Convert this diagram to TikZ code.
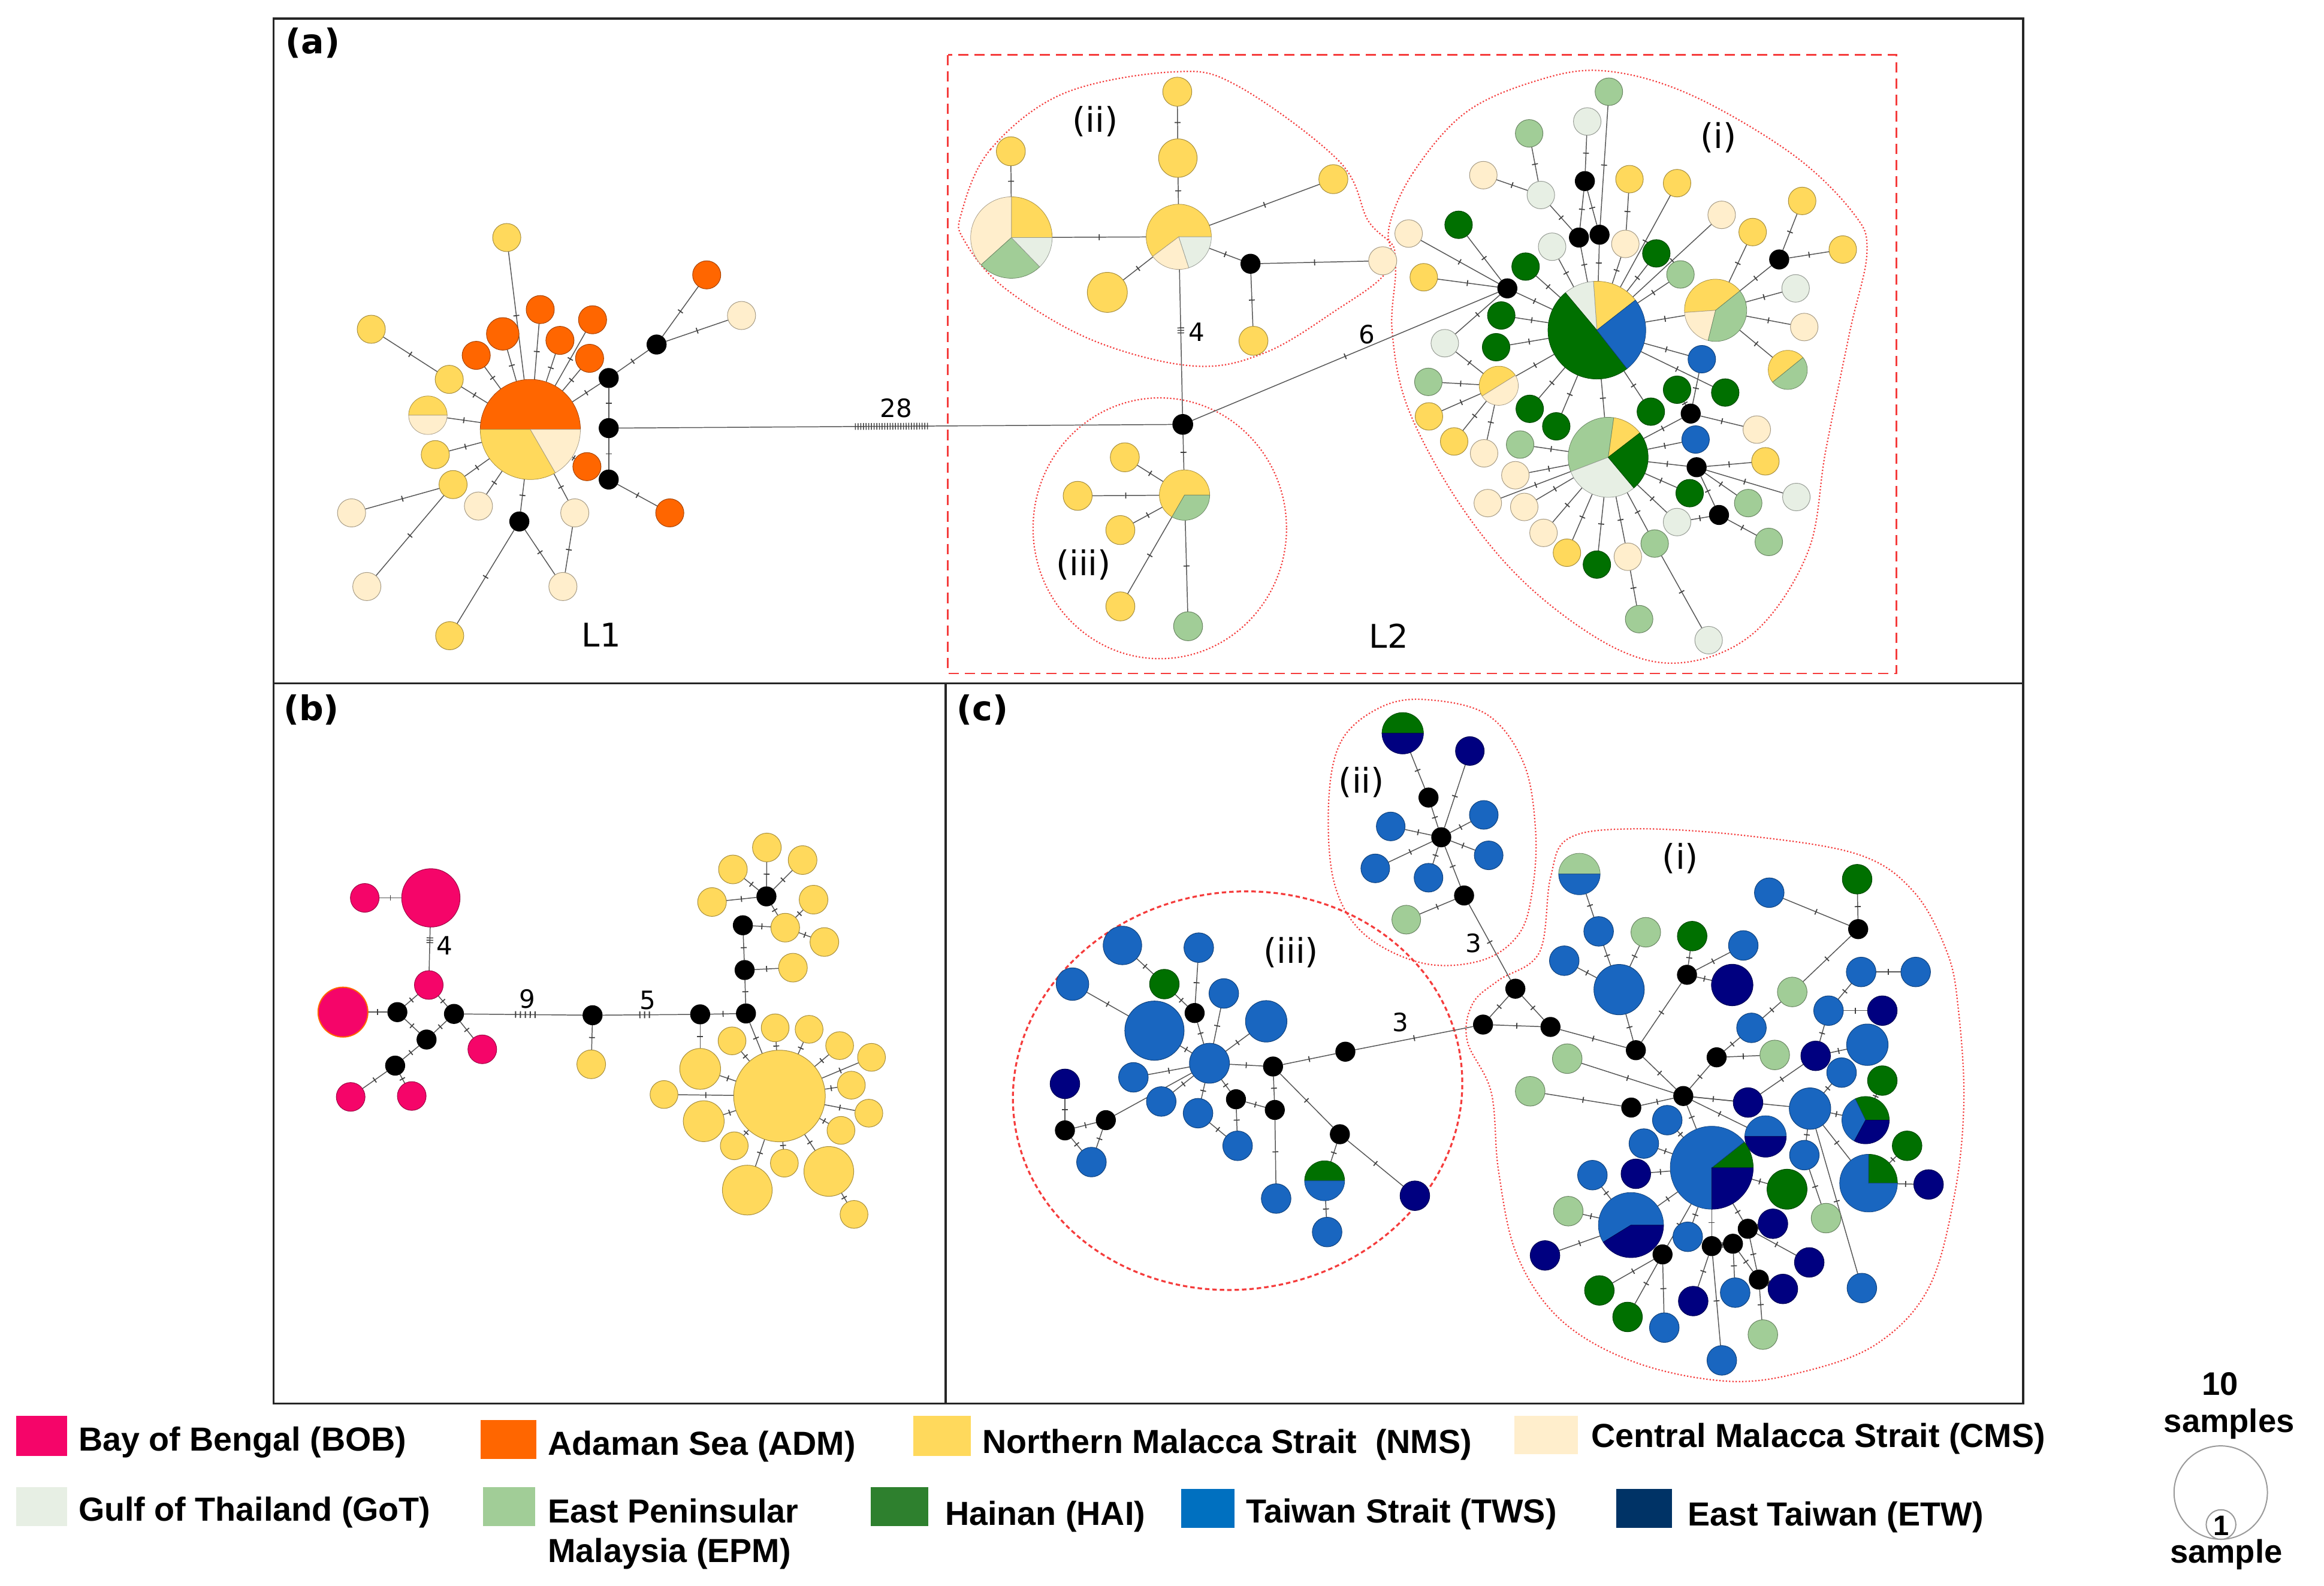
\documentclass[tikz,border=0pt]{standalone}
\usepackage{fontspec}
\setmainfont{DejaVu Sans}
\newfontfamily\legf{Liberation Sans}
\usetikzlibrary{calc}
\pgfdeclarelayer{bg}
\pgfsetlayers{bg,main}
\definecolor{BOB}{RGB}{245,5,105}
\definecolor{ADM}{RGB}{255,102,0}
\definecolor{NMS}{RGB}{255,217,92}
\definecolor{CMS}{RGB}{255,238,204}
\definecolor{GoT}{RGB}{231,239,228}
\definecolor{EPM}{RGB}{161,205,151}
\definecolor{HAI}{RGB}{0,112,0}
\definecolor{TWS}{RGB}{25,102,192}
\definecolor{ETW}{RGB}{0,0,128}
\definecolor{LHAI}{RGB}{46,128,46}
\definecolor{LTWS}{RGB}{0,112,192}
\definecolor{LETW}{RGB}{0,51,102}
\definecolor{REDL}{RGB}{245,60,60}
\tikzset{
  hap/.style={circle, inner sep=0pt, outer sep=0pt, line width=0.4pt},
  medv/.style={circle, fill=black, inner sep=0pt, outer sep=0pt, minimum size=13.5pt},
  pien/.style={circle, inner sep=0pt, outer sep=0pt},
  edg/.style={draw=black!66, line width=0.6pt},
  tk/.style={sloped, allow upside down, rectangle, fill=black!75, inner sep=0pt, minimum width=0.7pt, minimum height=4pt},
  hatch/.style={draw=black!75, line width=4.5pt},
  frame/.style={draw=black!85, line width=1.3pt},
  redbox/.style={draw=REDL, line width=1pt, dash pattern=on 7pt off 4pt},
  dots/.style={draw=REDL, line width=0.9pt, dash pattern=on 0.9pt off 1.3pt},
  dsh/.style={draw=REDL, line width=1.3pt, dash pattern=on 3pt off 2pt},
  num/.style={inner sep=0pt, font=\fontsize{17}{20}\selectfont},
  plab/.style={inner sep=0pt, font=\bfseries\fontsize{23}{26}\selectfont},
  clab/.style={inner sep=0pt, font=\fontsize{23}{26}\selectfont},
  Llab/.style={inner sep=0pt, font=\fontsize{22}{26}\selectfont},
  legt/.style={anchor=base west, inner sep=0pt, font=\legf\bfseries\fontsize{22.5}{26}\selectfont},
  sct/.style={inner sep=0pt, font=\legf\bfseries\fontsize{22}{24}\selectfont},
}
\newcommand\HN[4]{\node[hap, fill=#4, draw=#4!65!black, minimum size=#3*2pt] (#1) at (#2) {};}
\newcommand\BN[2]{\node[medv] (#1) at (#2) {};}
\newcommand\PN[4]{\node[pien, minimum size=#3*2pt] (#1) at (#2) {};
  \foreach \pa/\pb/\pc in {#4}{\filldraw[fill=\pc, draw=\pc!65!black, line width=0.3pt] (#1.center) -- ++({-(\pa)}:#3) arc[start angle={-(\pa)}, end angle={-(\pb)}, radius=#3] -- cycle;}}
\begin{document}
\begin{tikzpicture}[x=1pt,y=-1pt]
\useasboundingbox (0,0) rectangle (1568,1070);
\begin{pgfonlayer}{bg}
\fill[white] (0,0) rectangle (1568,1070);
\draw[frame] (184.5,12.5) rectangle (1365,461);
\draw[frame] (184.5,461) rectangle (638,947);
\draw[frame] (638,461) rectangle (1365,947);
\draw[redbox] (639.5,37) rectangle (1279.5,454.5);
\draw[dots] plot[smooth cycle, tension=0.6] coordinates {(648.7,143.7) (668.3,100.8) (717.3,63.2) (791.8,48.5) (834.9,57.9) (903.5,108.8) (923.1,149.0) (940.7,167.8) (932.9,186.6) (903.5,208.0) (854.5,237.6) (805.5,247.0) (736.9,229.5) (678.1,194.6) (650.7,162.5)};
\draw[dots] plot[smooth cycle, tension=0.6] coordinates {(937.0,154.4) (953.2,116.9) (988.0,76.6) (1034.4,55.2) (1080.9,47.7) (1138.9,63.2) (1208.5,103.5) (1250.3,143.7) (1259.6,170.5) (1248.0,224.1) (1231.7,304.6) (1220.1,371.6) (1185.3,425.3) (1138.9,446.7) (1092.5,438.7) (1034.4,398.5) (988.0,344.8) (950.9,277.8) (939.3,224.1) (941.6,181.2)};
\draw[dots] (782.5,356.5) ellipse[x radius=85.5, y radius=88];
\draw[dots] plot[smooth cycle, tension=0.6] coordinates {(896.5,540) (905,500) (930,478) (960,472) (1003,482) (1028,515) (1036,560) (1034,600) (1025,630) (1000,648) (960,650) (920,630) (900,595)};
\draw[dots] plot[smooth cycle, tension=0.6] coordinates {(1038.6,642.7) (1046.1,592.3) (1058.6,565.6) (1103.7,559.3) (1178.7,564.0) (1253.7,576.6) (1291.2,601.8) (1313.7,642.7) (1321.2,680.4) (1325.0,743.3) (1318.7,806.3) (1301.2,869.2) (1266.2,906.9) (1216.2,925.8) (1166.2,932.1) (1103.7,919.5) (1053.6,891.2) (1023.6,847.2) (1011.1,790.5) (1006.1,737.0) (989.9,702.4) (993.6,677.3) (1011.1,661.5)};
\draw[dsh, rotate around={9:(835,736)}] (835,736) ellipse[x radius=152, y radius=134];
\end{pgfonlayer}
% ---------- panel (a) L1
\PN{a0}{357.8,289.8}{33.8}{0/180/ADM,180/300/NMS,300/360/CMS}
\HN{a1}{341.9,160.3}{9.5}{NMS}
\HN{a2}{339.2,225.3}{11}{ADM}
\HN{a3}{364.5,208.9}{9.5}{ADM}
\HN{a4}{399.8,215.8}{9.5}{ADM}
\HN{a5}{377.8,229.7}{9.5}{ADM}
\HN{a6}{321.3,239.8}{9.5}{ADM}
\HN{a7}{397.8,241.8}{9.5}{ADM}
\HN{a8}{250.5,222.2}{9.5}{NMS}
\HN{a9}{303.1,256.0}{9.5}{NMS}
\PN{a10}{288.7,280.2}{13}{0/180/NMS,180/360/CMS}
\HN{a11}{293.7,306.8}{9.5}{NMS}
\HN{a12}{305.7,327.0}{9.5}{NMS}
\HN{a13}{237.2,346.1}{9.5}{CMS}
\HN{a14}{322.8,341.5}{9.5}{CMS}
\BN{a15}{350.4,351.9}
\HN{a16}{387.8,346.1}{9.5}{CMS}
\HN{a17}{396.0,314.9}{9.5}{ADM}
\HN{a18}{247.5,395.8}{9.5}{CMS}
\HN{a19}{379.8,395.8}{9.5}{CMS}
\HN{a20}{303.4,429.0}{9.5}{NMS}
\BN{ab1}{410.7,255.1}
\BN{ab2}{410.7,288.9}
\BN{ab3}{410.7,323.6}
\HN{a21}{451.9,346.1}{9.5}{ADM}
\BN{ab4}{443.0,232.5}
\HN{a22}{476.8,185.5}{9.5}{ADM}
\HN{a23}{500.3,212.9}{9.5}{CMS}
% ---------- (a) ii / iii
\PN{P2a}{682.4,160.3}{27.5}{0/90/NMS,90/222/CMS,222/314/EPM,314/360/GoT}
\PN{P2b}{795.3,159.8}{22}{0/217/NMS,217/288/CMS,288/360/GoT}
\HN{i1}{682.0,102.1}{9.8}{NMS}
\HN{i2}{794.7,106.7}{13}{NMS}
\HN{i3}{794.3,61.9}{9.8}{NMS}
\HN{i4}{899.6,120.9}{9.8}{NMS}
\HN{i5}{747.1,197.3}{13.5}{NMS}
\BN{ib1}{843.7,178.0}
\HN{i6}{932.9,176.0}{9.5}{CMS}
\HN{i7}{845.7,230.0}{9.8}{NMS}
\node[medv, minimum size=14pt] (J) at (798.0,286.4) {};
\PN{P3}{799.2,334.1}{17}{0/240/NMS,240/360/EPM}
\HN{t1}{758.9,308.6}{9.8}{NMS}
\HN{t2}{727.1,334.6}{9.8}{NMS}
\HN{t3}{755.9,357.7}{9.8}{NMS}
\HN{t4}{755.9,409.2}{9.8}{NMS}
\HN{t5}{801.6,422.6}{9.8}{EPM}
% ---------- (a) i
\PN{Pi1}{1077.4,222.8}{33}{38/94/NMS,94/130/GoT,130/308/HAI,308/398/TWS}
\PN{Pi2}{1085.0,308.6}{27}{37.6/82/NMS,82/201/EPM,201/310/GoT,310/397.6/HAI}
\PN{Pi3}{1157.5,209.4}{21}{38.6/184/NMS,184/256/CMS,256/398.6/EPM}
\PN{Pi4}{1011.2,260.3}{13.2}{32/212/NMS,212/392/CMS}
\PN{Pi5}{1206.2,249.6}{13.2}{39/219/NMS,219/399/EPM}
\BN{H}{1017.0,194.6}
\BN{k1}{1069.3,122.2}
\BN{k2}{1065.3,160.3}
\BN{k3}{1079.2,158.4}
\BN{k4}{1200.4,175.1}
\BN{k5}{1140.7,279.1}
\BN{k6}{1144.7,315.3}
\BN{k7}{1159.8,347.5}
\HN{c1}{1085.5,61.9}{9.3}{EPM}
\HN{c2}{1070.9,82.0}{9.3}{GoT}
\HN{c3}{1031.7,90.0}{9.3}{EPM}
\HN{c4}{1000.8,118.2}{9.3}{CMS}
\HN{c5}{1039.6,131.6}{9.3}{GoT}
\HN{c6}{1099.4,120.9}{9.3}{NMS}
\HN{c7}{1131.5,123.6}{9.3}{NMS}
\HN{c8}{950.4,157.6}{9.3}{CMS}
\HN{c9}{984.1,151.7}{9.3}{HAI}
\HN{c10}{960.6,187.1}{9.3}{NMS}
\HN{c11}{1029.3,179.9}{9.3}{HAI}
\HN{c12}{1047.2,166.5}{9.3}{GoT}
\HN{c13}{1096.6,164.6}{9.3}{CMS}
\HN{c14}{1117.5,171.0}{9.3}{HAI}
\HN{c15}{1133.8,185.2}{9.3}{EPM}
\HN{c16}{1161.6,145.0}{9.3}{CMS}
\HN{c17}{1182.5,156.6}{9.3}{NMS}
\HN{c18}{1215.9,135.6}{9.3}{NMS}
\HN{c19}{1243.3,168.4}{9.3}{NMS}
\HN{c20}{1211.5,194.6}{9.3}{GoT}
\HN{c21}{1217.3,220.7}{9.3}{CMS}
\HN{c22}{1012.9,212.9}{9.3}{HAI}
\HN{c23}{1009.4,234.3}{9.3}{HAI}
\HN{c24}{974.8,231.6}{9.3}{GoT}
\HN{c25}{963.7,257.7}{9.3}{EPM}
\HN{c26}{964.1,281.0}{9.3}{NMS}
\HN{c27}{981.1,297.9}{9.3}{NMS}
\HN{c28}{1001.3,305.9}{9.3}{CMS}
\HN{c29}{1025.6,300.0}{9.3}{EPM}
\HN{c30}{1032.1,275.9}{9.3}{HAI}
\HN{c31}{1050.0,287.7}{9.3}{HAI}
\HN{c32}{1113.8,277.8}{9.3}{HAI}
\HN{c33}{1131.5,263.0}{9.3}{HAI}
\HN{c34}{1148.2,242.4}{9.3}{TWS}
\HN{c35}{1164.0,264.9}{9.3}{HAI}
\HN{c36}{1144.0,296.6}{9.3}{TWS}
\HN{c37}{1185.3,289.9}{9.3}{CMS}
\HN{c38}{1191.1,311.3}{9.3}{NMS}
\HN{c39}{1140.0,332.8}{9.3}{HAI}
\HN{c40}{1179.5,339.5}{9.3}{EPM}
\HN{c41}{1212.0,335.4}{9.3}{GoT}
\HN{c42}{1193.4,365.7}{9.3}{EPM}
\HN{c43}{1131.5,352.3}{9.3}{GoT}
\HN{c44}{1022.4,320.7}{9.3}{CMS}
\HN{c45}{1003.8,339.5}{9.3}{CMS}
\HN{c46}{1028.4,342.1}{9.3}{CMS}
\HN{c47}{1041.4,359.6}{9.3}{CMS}
\HN{c48}{1057.2,373.0}{9.3}{NMS}
\HN{c49}{1077.4,381.0}{9.3}{HAI}
\HN{c50}{1098.3,375.7}{9.3}{CMS}
\HN{c51}{1116.4,366.8}{9.3}{EPM}
\HN{c52}{1105.9,417.8}{9.3}{EPM}
\HN{c53}{1152.8,432.0}{9.3}{GoT}
% ---------- panel (b)
\HN{p1}{290.7,605.9}{19.7}{BOB}
\HN{p2}{246.1,605.9}{9.7}{BOB}
\HN{p3}{289.3,664.7}{9.7}{BOB}
\node[hap, fill=BOB, draw=ADM, line width=0.8pt, minimum size=33.6pt] (p4) at (231.4,683.0) {};
\BN{q1}{268.1,683.0}
\BN{q2}{306.3,684.2}
\BN{q3}{287.8,701.5}
\BN{q4}{266.6,719.1}
\HN{p5}{325.4,708.1}{9.7}{BOB}
\HN{p6}{236.6,740.2}{9.7}{BOB}
\HN{p7}{277.8,739.6}{9.7}{BOB}
\BN{q5}{399.8,685.1}
\HN{y1}{398.9,718.2}{9.7}{NMS}
\BN{q6}{472.4,684.5}
\BN{q7}{503.3,683.9}
\BN{q8}{502.4,654.6}
\BN{q9}{501.2,624.4}
\BN{q10}{517.1,604.9}
\HN{y2}{517.4,571.9}{9.7}{NMS}
\HN{y3}{541.5,580.4}{9.7}{NMS}
\HN{y4}{494.5,586.7}{9.7}{NMS}
\HN{y5}{480.4,608.7}{9.7}{NMS}
\HN{y6}{548.9,607.1}{9.7}{NMS}
\HN{y7}{529.8,626.0}{9.7}{NMS}
\HN{y8}{556.2,635.7}{9.7}{NMS}
\HN{y9}{535.0,653.0}{9.7}{NMS}
\HN{Y0}{525.9,739.6}{30.9}{NMS}
\HN{y10}{472.4,721.3}{13.8}{NMS}
\HN{y11}{493.9,702.4}{9.4}{NMS}
\HN{y12}{523.0,693.6}{9.4}{NMS}
\HN{y13}{545.9,694.6}{9.4}{NMS}
\HN{y14}{566.5,705.6}{9.4}{NMS}
\HN{y15}{588.0,713.5}{9.4}{NMS}
\HN{y16}{574.4,732.3}{9.4}{NMS}
\HN{y17}{586.2,751.2}{9.4}{NMS}
\HN{y18}{567.4,762.8}{9.4}{NMS}
\HN{y19}{448.0,738.6}{9.4}{NMS}
\HN{y20}{474.8,756.6}{13.8}{NMS}
\HN{y21}{495.4,773.2}{9.4}{NMS}
\HN{y22}{529.2,784.9}{9.4}{NMS}
\HN{y23}{559.2,790.5}{16.8}{NMS}
\HN{y24}{504.2,803.1}{16.8}{NMS}
\HN{y25}{576.2,819.5}{9.4}{NMS}
% ---------- panel (c) ii
\PN{m1}{946.4,494.8}{14}{0/180/HAI,180/360/ETW}
\HN{m2}{991.7,506.8}{9.7}{ETW}
\BN{mb1}{963.8,538.2}
\BN{mh}{972.4,565.0}
\HN{m3}{938.3,557.7}{9.7}{TWS}
\HN{m4}{927.9,586.0}{9.7}{TWS}
\HN{m5}{963.8,592.3}{9.7}{TWS}
\HN{m6}{1001.1,549.9}{9.7}{TWS}
\HN{m7}{1004.4,577.2}{9.7}{TWS}
\BN{mb2}{987.8,604.3}
\HN{m8}{948.8,620.6}{9.7}{EPM}
% ---------- panel (c) iii
\HN{r1}{757.3,638.0}{13}{TWS}
\HN{r2}{723.6,664.1}{11}{TWS}
\HN{r3}{785.6,664.1}{10}{HAI}
\HN{r4}{808.8,639.5}{10}{TWS}
\HN{R0}{778.9,695.5}{20}{TWS}
\BN{rb1}{806.0,683.6}
\HN{r5}{825.7,670.4}{10}{TWS}
\HN{r6}{854.3,689.2}{14}{TWS}
\HN{RH}{816.0,717.5}{13.5}{TWS}
\BN{rb2}{858.9,719.7}
\BN{rb3}{907.7,709.7}
\HN{r7}{764.7,727.0}{10}{TWS}
\HN{r8}{783.5,743.3}{10}{TWS}
\HN{r9}{718.5,731.4}{10}{ETW}
\BN{rb4}{718.5,762.8}
\BN{rb5}{746.1,755.9}
\HN{r10}{736.4,784.2}{10}{TWS}
\HN{r11}{808.3,751.2}{10}{TWS}
\BN{rb6}{833.9,741.8}
\BN{rb7}{860.1,749.0}
\HN{r12}{835.0,773.2}{10}{TWS}
\HN{r13}{861.0,808.8}{10}{TWS}
\BN{rb8}{904.0,765.4}
\PN{r14}{893.7,796.8}{13.5}{0/180/HAI,180/360/TWS}
\HN{r15}{895.4,831.4}{10}{TWS}
\HN{r16}{954.6,806.9}{10}{ETW}
% ---------- panel (c) i
\PN{n1}{1065.6,589.8}{14}{0/180/EPM,180/360/TWS}
\BN{nb1}{1022.4,667.2}
\BN{nb2}{1000.6,691.4}
\BN{nb3}{1046.1,693.0}
\HN{n2}{1078.6,628.5}{10}{TWS}
\HN{n3}{1110.4,629.1}{10}{EPM}
\HN{n4}{1055.4,648.3}{10}{TWS}
\HN{N1}{1092.4,667.8}{17}{TWS}
\HN{n5}{1141.7,631.7}{10}{HAI}
\HN{n6}{1176.2,638.0}{10}{TWS}
\BN{nb4}{1138.2,657.8}
\HN{n7}{1168.7,664.7}{14}{ETW}
\BN{nb5}{1103.7,708.7}
\HN{n8}{1193.7,602.4}{10}{TWS}
\HN{n9}{1253.0,593.3}{10}{HAI}
\BN{nb6}{1253.7,627.0}
\HN{n10}{1209.2,669.4}{10}{EPM}
\HN{n11}{1255.7,655.9}{10}{TWS}
\HN{n12}{1292.5,655.9}{10}{TWS}
\HN{n13}{1181.7,693.6}{10}{TWS}
\HN{n14}{1233.7,682.0}{10}{TWS}
\HN{n15}{1270.0,682.0}{10}{ETW}
\BN{nb7}{1158.2,713.5}
\HN{n16}{1197.4,711.9}{10}{EPM}
\HN{n17}{1057.4,714.4}{10}{EPM}
\HN{n18}{1032.4,736.4}{10}{EPM}
\BN{nb8}{1135.7,739.6}
\BN{nb9}{1100.6,747.4}
\HN{n19}{1225.0,712.5}{10}{ETW}
\HN{n20}{1259.9,705.0}{14}{TWS}
\HN{n21}{1242.5,723.8}{10}{TWS}
\HN{n22}{1270.0,729.2}{10}{HAI}
\HN{n23}{1179.4,744.0}{10}{ETW}
\HN{n24}{1221.2,748.1}{14}{TWS}
\PN{n25}{1258.7,755.9}{16}{0/116/HAI,116/241.6/TWS,241.6/360/ETW}
\HN{n26}{1124.9,755.9}{10}{TWS}
\PN{n27}{1191.2,766.9}{14}{0/180/TWS,180/360/ETW}
\HN{n28}{1109.1,771.7}{10}{TWS}
\PN{NC}{1154.9,788.0}{28}{0/38.5/HAI,38.5/270/TWS,270/360/ETW}
\HN{n29}{1217.4,779.5}{10}{TWS}
\HN{n30}{1286.7,773.2}{10}{HAI}
\PN{ND}{1260.7,798.4}{19.5}{0/90/HAI,90/360/TWS}
\HN{n31}{1301.2,799.3}{10}{ETW}
\HN{n32}{1103.7,792.1}{10}{ETW}
\HN{n33}{1074.4,793.0}{10}{TWS}
\HN{n34}{1205.7,802.5}{13.5}{HAI}
\HN{n35}{1058.1,817.3}{10}{EPM}
\PN{NE}{1100.4,826.7}{22}{0/211.6/TWS,211.6/360/ETW}
\HN{n36}{1232.0,822.0}{10}{EPM}
\HN{n37}{1196.2,825.8}{10}{ETW}
\HN{n38}{1042.4,847.2}{10}{ETW}
\HN{n39}{1138.7,834.6}{10}{TWS}
\BN{nb10}{1121.7,846.5}
\BN{nb11}{1154.9,840.9}
\BN{nb12}{1169.2,839.3}
\BN{nb13}{1179.2,829.2}
\HN{n40}{1220.7,851.9}{10}{ETW}
\BN{nb14}{1186.7,863.5}
\HN{n41}{1202.9,869.8}{10}{ETW}
\HN{n42}{1079.1,870.8}{10}{HAI}
\HN{n43}{1170.7,872.3}{10}{TWS}
\HN{n44}{1142.4,878.0}{10}{ETW}
\HN{n45}{1256.2,869.2}{10}{TWS}
\HN{n46}{1098.1,888.7}{10}{HAI}
\HN{n47}{1122.9,895.9}{10}{TWS}
\HN{n48}{1189.4,900.6}{10}{EPM}
\HN{n49}{1161.7,918.0}{10}{TWS}
% ---------- edges
\begin{pgfonlayer}{bg}
\foreach \u/\v in {a1/a0,a2/a0,a3/a0,a4/a0,a5/a0,a6/a0,a7/a0,a8/a9,a9/a0,a10/a0,a11/a0,a12/a0,a13/a12,a18/a12,a14/a0,a15/a0,a20/a15,a15/a19,a16/a0,a16/a19,a17/a0,ab1/a0,ab1/ab2,ab2/ab3,ab3/a21,ab1/ab4,ab4/a22,ab4/a23,
 i1/P2a,P2a/P2b,i3/i2,i2/P2b,P2b/i4,P2b/i5,P2b/ib1,ib1/i6,ib1/i7,J/P3,P3/t1,P3/t2,P3/t3,P3/t4,P3/t5,J/H,
 c2/k1,k1/k2,k1/k3,c1/k3,c6/c13,c13/Pi1,k2/Pi1,k3/Pi1,c3/c5,c4/c5,c5/k2,c7/Pi1,c16/Pi1,c14/Pi1,c15/Pi1,c12/Pi1,c11/Pi1,H/Pi1,H/c9,H/c8,H/c10,H/c24,c22/Pi1,c23/Pi1,c24/Pi4,Pi4/Pi1,c25/Pi4,c26/Pi4,c27/Pi4,c28/Pi4,c29/Pi2,c30/Pi1,c31/Pi1,Pi2/Pi1,c32/Pi1,c34/Pi1,c35/Pi1,Pi3/Pi1,c17/Pi3,k4/Pi3,k4/c18,k4/c19,c20/Pi3,c21/Pi3,Pi5/Pi3,k5/c34,k5/c37,k5/Pi2,k5/c33,c36/Pi2,k6/Pi2,k6/c38,k6/c40,k6/c41,k6/k7,k7/c43,k7/c42,c39/Pi2,c43/Pi2,c44/Pi2,c45/Pi2,c46/Pi2,c47/Pi2,c48/Pi2,c49/Pi2,c50/Pi2,c51/Pi2,c52/c50,c53/c51}
 {\draw[edg] (\u) -- node[tk]{} (\v);}
\foreach \u/\v in {p2/p1,p3/q1,p3/q2,q1/p4,q1/q3,q2/q3,q2/p5,q3/q4,q4/p6,q4/p7,q5/y1,q6/y10,q6/q7,q7/q8,q8/q9,q8/y9,q9/y7,q10/y2,q10/y3,q10/y4,q10/y5,q10/y7,y6/y7,y8/y7,q7/Y0,y10/Y0,y11/Y0,y12/Y0,y13/Y0,y14/Y0,y15/Y0,y16/Y0,y17/Y0,y18/Y0,y19/Y0,y20/Y0,y21/Y0,y22/Y0,y23/Y0,y24/Y0,y23/y25}
 {\draw[edg] (\u) -- node[tk]{} (\v);}
\foreach \u/\v in {m1/mb1,mb1/mh,m2/mh,m3/mh,m4/mh,m5/mh,m6/mh,m7/mh,mh/mb2,mb2/m8,mb2/nb1,
 r2/R0,r1/r3,r3/rb1,r4/rb1,rb1/RH,r5/RH,r6/RH,R0/RH,RH/rb2,rb2/rb3,rb3/nb2,r7/RH,r8/RH,RH/rb5,rb5/rb4,rb4/r9,rb4/r10,rb5/r10,RH/r11,r11/r12,RH/rb6,rb6/r12,rb6/rb7,rb2/rb7,rb7/r13,rb2/rb8,rb8/r14,rb8/r16,r14/r15,
 nb1/nb2,nb1/nb3,nb2/nb3,n1/n2,n2/N1,n3/N1,n4/N1,N1/nb5,nb3/nb5,nb5/nb4,nb4/n5,nb4/n6,nb4/n7,nb5/nb8,nb8/nb7,nb7/n13,n13/n10,n10/nb6,nb6/n9,nb6/n8,nb7/n16,n17/nb8,n18/nb9,nb9/nb8,nb8/NC,nb8/n23,nb8/n24,nb8/n27,n23/n19,n19/n14,n14/n11,n11/n12,n14/n15,n20/n19,n21/n24,n22/n25,n25/n24,n24/ND,n24/n45,n29/n24,n36/n29,n30/ND,n31/ND,n26/NC,n28/NC,n32/NC,n33/NE,n35/NE,NE/NC,n38/NE,nb10/NC,n42/nb10,n46/nb10,n47/nb10,n39/NC,nb11/NC,nb11/n49,nb11/n44,nb12/nb11,nb12/n43,nb13/NC,nb13/n37,nb13/n40,nb13/nb14,nb14/n41,nb14/n48,nb14/nb12,n34/NC}
 {\draw[edg] (\u) -- node[tk]{} (\v);}
% special hatched edges
\draw[edg] (ab2) -- (J);
\draw[hatch, dash pattern=on 0.6pt off 1.2pt] ($(ab2)!0.429!(J)$) -- ($(ab2)!0.558!(J)$);
\draw[edg] (P2b) -- (J);
\draw[hatch, dash pattern=on 0.6pt off 1.1pt] ($(P2b)!0.483!(J)$) -- ($(P2b)!0.523!(J)$);
\draw[edg] (p1) -- (p3);
\draw[hatch, dash pattern=on 0.6pt off 1.0pt] ($(p1)!0.454!(p3)$) -- ($(p1)!0.519!(p3)$);
\draw[edg] (q2) -- (q5);
\draw[hatch, dash pattern=on 0.8pt off 2.5pt] ($(q2)!0.44!(q5)$) -- ($(q2)!0.598!(q5)$);
\draw[edg] (q5) -- (q6);
\draw[hatch, dash pattern=on 0.8pt off 2.4pt] ($(q5)!0.434!(q6)$) -- ($(q5)!0.555!(q6)$);
\end{pgfonlayer}
% ---------- labels
\node[plab] (txa) at (211,29) {(a)};
\node[plab] (txb) at (210,479) {(b)};
\node[plab] (txc) at (663,479) {(c)};
\node[num] (tx28) at (604.7,275.3) {28};
\node[Llab] (txL1) at (405.7,428.4) {L1};
\node[Llab] (txL2) at (937,429) {L2};
\node[num] (tx4a) at (807.5,224.1) {4};
\node[num] (tx6a) at (922.1,225.5) {6};
\node[clab] (txiia) at (738.9,82) {(ii)};
\node[clab] (txiiia) at (731,381) {(iii)};
\node[clab] (txia) at (1159.3,92.7) {(i)};
\node[num] (tx4b) at (299.9,638) {4};
\node[num] (tx9b) at (355.7,674.1) {9};
\node[num] (tx5b) at (437.2,675.1) {5};
\node[clab] (txiic) at (918.6,527.8) {(ii)};
\node[num] (tx3c) at (994,636.4) {3};
\node[clab] (txiiic) at (871,642.7) {(iii)};
\node[num] (tx3d) at (944.8,689.9) {3};
\node[clab] (txic) at (1133.7,579.1) {(i)};
% ---------- legend
\fill[BOB] (11.1,955.6) rectangle (45.3,982.6);
\node[legt] (lg1) at (52.8,979.2) {Bay of Bengal (BOB)};
\fill[ADM] (324.3,958.4) rectangle (362,984.6);
\node[legt] (lg2) at (369.6,982) {Adaman Sea (ADM)};
\fill[NMS] (616,955.6) rectangle (655,982.6);
\node[legt] (lg3) at (662.7,980.5) {Northern Malacca Strait\ \ (NMS)};
\fill[CMS] (1021.9,955.6) rectangle (1064.4,981.3);
\node[legt] (lg4) at (1073.4,976.6) {Central Malacca Strait (CMS)};
\fill[GoT] (11.1,1003.5) rectangle (45.3,1029.8);
\node[legt] (lg5) at (52.8,1026.4) {Gulf of Thailand (GoT)};
\fill[EPM] (325.8,1003.5) rectangle (361,1029.8);
\node[legt] (lg6) at (369.6,1027.8) {East Peninsular};
\node[legt] (lg6b) at (369.6,1054.1) {Malaysia (EPM)};
\fill[LHAI] (587.3,1003.5) rectangle (626.5,1029.8);
\node[legt] (lg7) at (637.5,1029.2) {Hainan (HAI)};
\fill[LTWS] (797,1004.9) rectangle (833,1031.1);
\node[legt] (lg8) at (840.5,1027.8) {Taiwan Strait (TWS)};
\fill[LETW] (1090.4,1004.9) rectangle (1127.9,1031.1);
\node[legt] (lg9) at (1138.4,1029.8) {East Taiwan (ETW)};
\node[sct] (s10) at (1498,934) {10};
\node[sct] (ssm) at (1504,961) {samples};
\node[circle, draw=black!40, line width=0.8pt, inner sep=0pt, minimum size=63pt] (sc10) at (1498.3,1007.2) {};
\node[circle, draw=black!40, line width=0.8pt, inner sep=0pt, minimum size=20pt] (sc1) at (1498.5,1028.8) {};
\node[inner sep=0pt, font=\legf\bfseries\fontsize{19}{20}\selectfont] (sc1t) at (1498.5,1029.5) {1};
\node[sct] (ss1) at (1502,1049) {sample};
\end{tikzpicture}
\end{document}
